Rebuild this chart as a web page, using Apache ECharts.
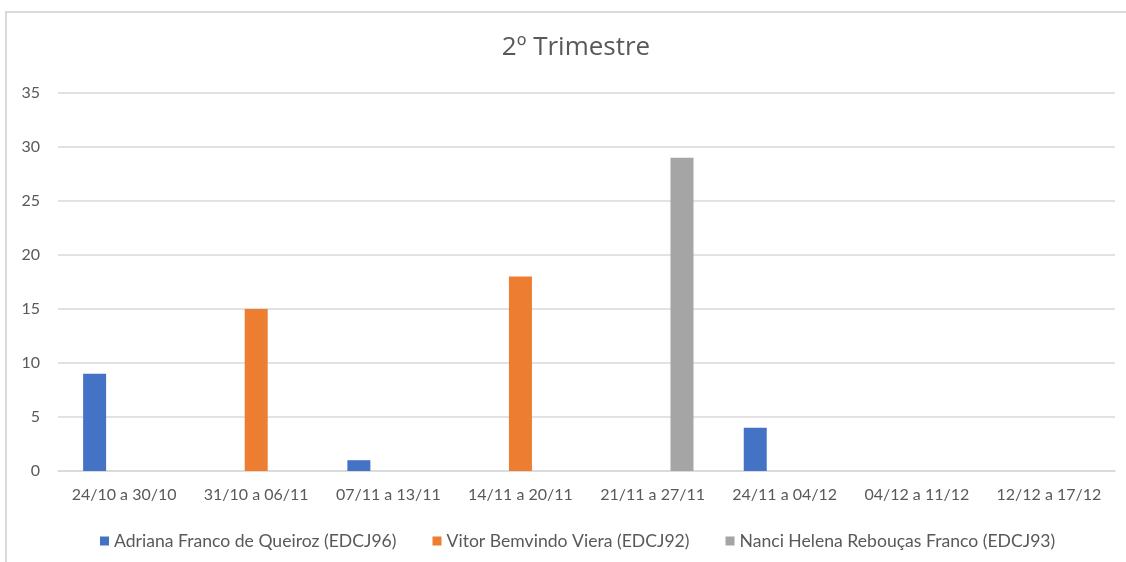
<!DOCTYPE html>
<html>
<head>
<meta charset="utf-8">
<script src="https://cdn.jsdelivr.net/npm/echarts@6/dist/echarts.min.js"></script>
<style>
  html, body { margin: 0; padding: 0; background: #fff; }
  #frame { position: absolute; left: 5px; top: 11px; width: 1200px; height: 600px;
           border-left: 2px solid #d9d9d9; border-top: 2px solid #d9d9d9; }
  #chart { position: absolute; left: 0; top: 0; width: 1126px; height: 562px; }
</style>
</head>
<body>
<div id="frame"></div>
<div id="chart"></div>
<script>
// semanas do trimestre
var semanas = ['24/10 a 30/10', '31/10 a 06/11', '07/11 a 13/11', '14/11 a 20/11',
               '21/11 a 27/11', '24/11 a 04/12', '04/12 a 11/12', '12/12 a 17/12'];

// valores por aluno
var adriana = [9, 0, 1, 0, 0, 4, 0, 0];
var vitor   = [0, 15, 0, 18, 0, 0, 0, 0];
var nanci   = [0, 0, 0, 0, 29, 0, 0, 0];

var nomes = ['Adriana Franco de Queiroz (EDCJ96)', 'Vitor Bemvindo Viera (EDCJ92)',
             'Nanci Helena Rebouças Franco (EDCJ93)'];

var myChart = echarts.init(document.getElementById('chart'));

var fonte = 'Lato, "Open Sans", sans-serif';

var option = {
    color: ['#4472C4', '#ED7D31', '#A5A5A5'],
    textStyle: { fontFamily: fonte },
    title: {
        text: '2º Trimestre',
        left: 571,
        top: 30,
        textAlign: 'center',
        textStyle: { fontFamily: '"Open Sans", sans-serif', fontSize: 26, fontWeight: 'normal', color: '#595959' }
    },
    legend: {
        data: nomes,
        left: 95,
        top: 527,
        icon: 'rect',
        itemWidth: 9,
        itemHeight: 9,
        itemGap: 36,
        textStyle: { fontFamily: fonte, fontSize: 17.6, color: '#595959' }
    },
    grid: { left: 58, right: 11, top: 93, bottom: 91, containLabel: false },
    xAxis: {
        type: 'category',
        data: semanas,
        axisLine: { lineStyle: { color: '#d9d9d9', width: 1.5 } },
        axisTick: { show: false },
        axisLabel: { color: '#595959', fontSize: 16, margin: 16, interval: 0 }
    },
    yAxis: {
        type: 'value',
        min: 0,
        max: 35,
        interval: 5,
        axisLine: { show: false },
        axisTick: { show: false },
        axisLabel: { color: '#595959', fontSize: 16, margin: 18 },
        splitLine: { lineStyle: { color: '#d9d9d9', width: 1.5 } }
    },
    series: [
        { name: nomes[0], type: 'bar', data: adriana, barWidth: 23, barGap: '28%' },
        { name: nomes[1], type: 'bar', data: vitor, barWidth: 23, barGap: '28%' },
        { name: nomes[2], type: 'bar', data: nanci, barWidth: 23, barGap: '28%' }
    ]
};

myChart.setOption(option);
</script>
</body>
</html>
